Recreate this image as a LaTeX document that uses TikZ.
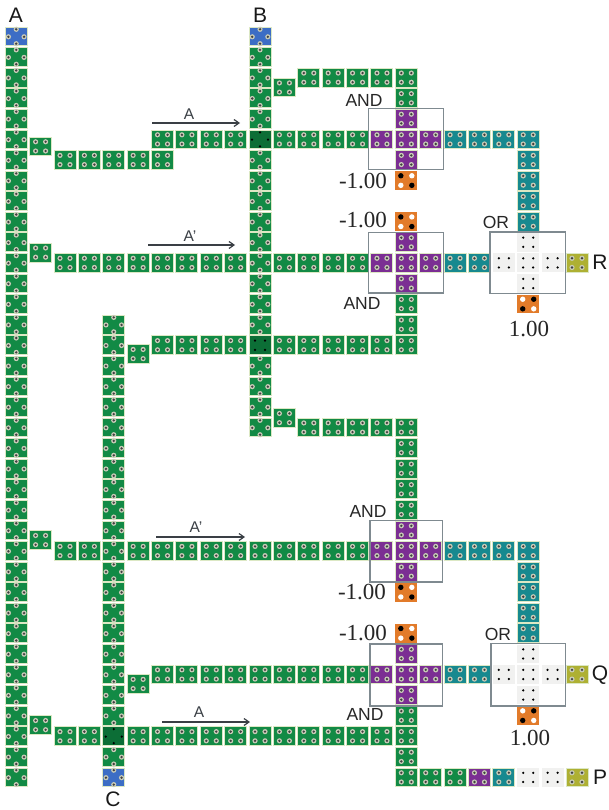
\documentclass[tikz,border=0pt]{standalone}
\usepackage{fontspec}
\setmainfont{Liberation Serif}
\setsansfont{Liberation Sans}
\usetikzlibrary{arrows.meta}
\definecolor{gr}{HTML}{128A45}
\definecolor{dgr}{HTML}{0C6E36}
\definecolor{pu}{HTML}{7B2E93}
\definecolor{te}{HTML}{17898F}
\definecolor{bl}{HTML}{3C6DC5}
\definecolor{or}{HTML}{E27B2A}
\definecolor{ye}{HTML}{AEB033}
\definecolor{li}{HTML}{F1F1F0}
\definecolor{edge}{HTML}{DCE8C4}
\definecolor{hole}{HTML}{C9CCB8}
\definecolor{boxc}{HTML}{7F8A90}
\definecolor{arr}{HTML}{3A3F45}
\newcommand{\at}[2]{\pgfmathsetmacro\cxx{65+24.38*#1}\pgfmathsetmacro\cyy{36.5+20.58*#2}}
\newcommand{\body}[1]{\filldraw[fill=#1,draw=edge,line width=.9] (-11,-9.4) rectangle (11,9.4);}
\newcommand{\hl}[2]{\fill[hole] (#1,#2) circle (2.6);\fill[black!75] (#1,#2) circle (1.3);}
\newcommand{\bk}[2]{\fill[black] (#1,#2) circle (1.25);}
% 2x2 holes
\newcommand{\cH}[3]{\at{#2}{#3}\begin{scope}[shift={(\cxx,\cyy)}]\body{#1}\hl{-5}{-4.6}\hl{5}{-4.6}\hl{-5}{4.6}\hl{5}{4.6}\end{scope}}
% four holes as a diamond
\newcommand{\cD}[3]{\at{#2}{#3}\begin{scope}[shift={(\cxx,\cyy)}]\body{#1}\hl{0}{-7.2}\hl{-7.8}{.3}\hl{7.8}{.3}\hl{0}{7.2}\end{scope}}
% dark crossing, black dots
\newcommand{\cXd}[2]{\at{#1}{#2}\begin{scope}[shift={(\cxx,\cyy)}]\body{dgr}\bk{0}{-7}\bk{-8}{.3}\bk{8}{.3}\bk{0}{7}\end{scope}}
\newcommand{\cXh}[2]{\at{#1}{#2}\begin{scope}[shift={(\cxx,\cyy)}]\body{dgr}\bk{-5}{-4.6}\bk{5}{-4.6}\bk{-5}{4.6}\bk{5}{4.6}\end{scope}}
% pale cell
\newcommand{\cL}[2]{\at{#1}{#2}\begin{scope}[shift={(\cxx,\cyy)}]\fill[li] (-11,-9.4) rectangle (11,9.4);\bk{-5}{-4.6}\bk{5}{-4.6}\bk{-5}{4.6}\bk{5}{4.6}\end{scope}}
% orange constant cells
\newcommand{\cO}[3]{\at{#1}{#2}\begin{scope}[shift={(\cxx,\cyy)}]\fill[or] (-11,-9.4) rectangle (11,9.4);
\ifnum#3=0
\fill[black] (-5.5,-4.8) circle (2.7);\fill[white] (5.5,-4.8) circle (2.7);\fill[white] (-5.5,4.8) circle (2.7);\fill[black] (5.5,4.8) circle (2.7);
\else
\fill[white] (-5.5,-4.8) circle (2.7);\fill[black] (5.5,-4.8) circle (2.7);\fill[black] (-5.5,4.8) circle (2.7);\fill[white] (5.5,4.8) circle (2.7);
\fi\end{scope}}
\tikzset{
  gatebox/.style={draw=boxc,line width=1.1},
  gatetxt/.style={font=\sffamily\fontsize{17.5}{18}\selectfont,text=black!85,inner sep=0},
  valtxt/.style={font=\rmfamily\fontsize{23}{24}\selectfont,text=black!85,inner sep=0},
  sigtxt/.style={font=\sffamily\fontsize{21}{22}\selectfont,text=black!90,inner sep=0},
  arrtxt/.style={font=\sffamily\fontsize{15.5}{16}\selectfont,text=arr,inner sep=0},
  wirearrow/.style={draw=arr,line width=1.2,-{Straight Barb[length=5pt,width=7pt]}}
}
\begin{document}
\begin{tikzpicture}[x=1pt,y=-1pt]
\useasboundingbox (0,0) rectangle (609,810);
\fill[white] (0,0) rectangle (609,810);
% vertical input columns
\foreach \i in {1,...,36} {\cD{gr}{-2}{\i}}
\cD{bl}{-2}{0}
\foreach \i in {1,...,4,6,7,...,14,16,17,18,19} {\cD{gr}{8}{\i}}
\cD{bl}{8}{0}
\cXd{8}{5}
\cXh{8}{15}
\foreach \i in {14,...,33,35} {\cD{gr}{2}{\i}}
\cXd{2}{34}
\cD{bl}{2}{36}
% step cells
\foreach \i in {5.34,10.5,24.47,33.46} {\cH{gr}{-1}{\i}}
\cH{gr}{9}{2.48}
\cH{gr}{9}{18.54}
\cH{gr}{3}{15.43}
\cH{gr}{3}{31.46}
% first AND
\foreach \k in {0,...,4} {\cH{gr}{\k}{6}}
\foreach \k in {4,...,7,9,10,11,12} {\cH{gr}{\k}{5}}
\foreach \k in {10,...,14} {\cH{gr}{\k}{2}}
\cH{gr}{14}{3}
\foreach \k/\i in {14/4,13/5,14/5,15/5,14/6} {\cH{pu}{\k}{\i}}
\cO{14}{7}{0}
\foreach \k in {16,...,19} {\cH{te}{\k}{5}}
\foreach \i in {6,...,9} {\cH{te}{19}{\i}}
% second AND and first OR
\foreach \k in {0,...,7,9,10,11,12} {\cH{gr}{\k}{11}}
\foreach \k/\i in {14/10,13/11,14/11,15/11,14/12} {\cH{pu}{\k}{\i}}
\cO{14}{9}{0}
\foreach \i in {13,14,15} {\cH{gr}{14}{\i}}
\foreach \k in {4,...,7,9,10,...,13} {\cH{gr}{\k}{15}}
\foreach \k in {16,17} {\cH{te}{\k}{11}}
\foreach \k/\i in {19/10,18/11,19/11,20/11,19/12} {\cL{\k}{\i}}
\cH{ye}{21}{11}
\cO{19}{13}{1}
% third AND
\foreach \k in {10,...,14} {\cH{gr}{\k}{19}}
\foreach \i in {20,...,23} {\cH{gr}{14}{\i}}
\foreach \k in {0,1,3,4,...,12} {\cH{gr}{\k}{25}}
\foreach \k/\i in {14/24,13/25,14/25,15/25,14/26} {\cH{pu}{\k}{\i}}
\cO{14}{27}{0}
\foreach \k in {16,...,19} {\cH{te}{\k}{25}}
\foreach \i in {26,...,29} {\cH{te}{19}{\i}}
% fourth AND and second OR
\foreach \k in {4,...,12} {\cH{gr}{\k}{31}}
\foreach \k/\i in {14/30,13/31,14/31,15/31,14/32} {\cH{pu}{\k}{\i}}
\cO{14}{29}{0}
\foreach \k in {16,17} {\cH{te}{\k}{31}}
\foreach \k/\i in {19/30,18/31,19/31,20/31,19/32} {\cL{\k}{\i}}
\cH{ye}{21}{31}
\cO{19}{33}{1}
\foreach \i in {33,...,36} {\cH{gr}{14}{\i}}
\foreach \k in {0,1,3,4,...,13} {\cH{gr}{\k}{34}}
% output P
\foreach \k in {15,16} {\cH{gr}{\k}{36}}
\cH{pu}{17}{36}
\cH{te}{18}{36}
\foreach \k in {19,20} {\cL{\k}{36}}
\cH{ye}{21}{36}
% gate boxes
\draw[gatebox] (368.5,108.5) rectangle (443.5,169.5);
\draw[gatebox] (368.5,232.5) rectangle (443.5,293);
\draw[gatebox] (490,232) rectangle (565.5,293.5);
\draw[gatebox] (370,520.5) rectangle (442.5,582);
\draw[gatebox] (370,644) rectangle (442.5,706);
\draw[gatebox] (491,643.5) rectangle (565.5,706);
% arrows
\coordinate (a1s) at (152,123);\coordinate (a1e) at (240,123);
\coordinate (a2s) at (148,245);\coordinate (a2e) at (235,245);
\coordinate (a3s) at (156,537);\coordinate (a3e) at (245,537);
\coordinate (a4s) at (162,722);\coordinate (a4e) at (250,722);
\draw[wirearrow] (a1s) -- (a1e);
\draw[wirearrow] (a2s) -- (a2e);
\draw[wirearrow] (a3s) -- (a3e);
\draw[wirearrow] (a4s) -- (a4e);
\node[arrtxt] (la1) at (189,114) {A};
\node[arrtxt] (la2) at (190,236) {A'};
\node[arrtxt] (la3) at (196,527) {A'};
\node[arrtxt] (la4) at (199,712) {A};
% labels
\node[sigtxt] (lA) at (16,15) {A};
\node[sigtxt] (lB) at (260,15) {B};
\node[sigtxt] (lC) at (113,799) {C};
\node[sigtxt] (lR) at (600,262) {R};
\node[sigtxt] (lQ) at (600,675) {Q};
\node[sigtxt] (lP) at (600,777) {P};
\node[gatetxt] (g1) at (364,100) {AND};
\node[gatetxt] (g2) at (362,303) {AND};
\node[gatetxt] (g3) at (368,511) {AND};
\node[gatetxt] (g4) at (365,714) {AND};
\node[gatetxt] (o1) at (496,222) {OR};
\node[gatetxt] (o2) at (498,634) {OR};
\node[valtxt] (v1) at (363,181) {-1.00};
\node[valtxt] (v2) at (363,220) {-1.00};
\node[valtxt] (v3) at (529,329) {1.00};
\node[valtxt] (v4) at (362,592) {-1.00};
\node[valtxt] (v5) at (363,633) {-1.00};
\node[valtxt] (v6) at (530,738) {1.00};
\end{tikzpicture}
\end{document}
